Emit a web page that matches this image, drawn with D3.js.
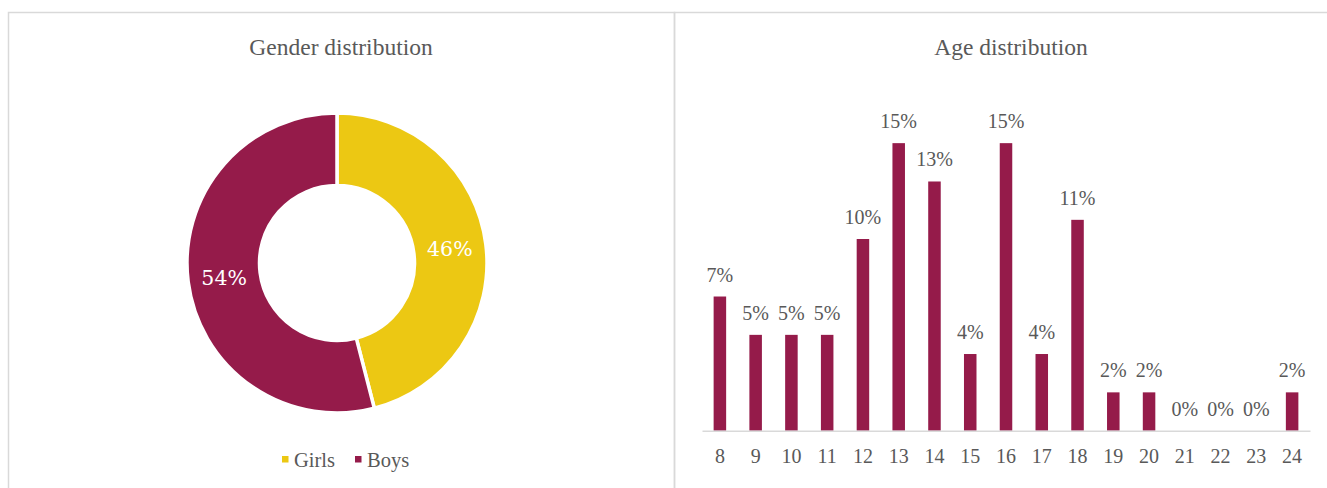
<!DOCTYPE html>
<html>
<head>
<meta charset="utf-8">
<script src="https://cdn.jsdelivr.net/npm/d3@7"></script>
<style>
  html, body { margin: 0; padding: 0; background: #fff; }
  svg { display: block; }
  text { font-family: "Liberation Serif", "Times New Roman", serif; fill: #595959; }
</style>
</head>
<body>
<svg id="chart" width="1327" height="488"></svg>
<script>
// Gender split (percent)
const genderLabels = ["Girls", "Boys"];
const genderValues = [46, 54];
const genderColors = ["#ECC813", "#951B4A"];

// Age split (percent)
const ages = ["8", "9", "10", "11", "12", "13", "14", "15", "16", "17", "18", "19", "20", "21", "22", "23", "24"];
const agePercents = [7, 5, 5, 5, 10, 15, 13, 4, 15, 4, 11, 2, 2, 0, 0, 0, 2];
const barColor = "#951B4A";

const svg = d3.select("#chart");
const borderColor = "#d9d9d9";

// Panel frames
svg.append("rect").attr("x", 8.5).attr("y", 12.5).attr("width", 666).attr("height", 500)
  .attr("fill", "none").attr("stroke", borderColor).attr("stroke-width", 1.5);
svg.append("rect").attr("x", 674.5).attr("y", 12.5).attr("width", 680).attr("height", 500)
  .attr("fill", "none").attr("stroke", borderColor).attr("stroke-width", 1.5);

// ---- Donut: gender distribution ----
svg.append("text").attr("x", 341).attr("y", 55).attr("text-anchor", "middle")
  .style("font-size", "23.5px").text("Gender distribution");

const cx = 337, cy = 263, rOuter = 150, rInner = 77.5;
const pie = d3.pie().sort(null).value(d => d)(genderValues);
const arc = d3.arc().innerRadius(rInner).outerRadius(rOuter);
const donut = svg.append("g").attr("transform", `translate(${cx},${cy})`);
donut.selectAll("path").data(pie).join("path")
  .attr("d", arc)
  .attr("fill", (d, i) => genderColors[i])
  .attr("stroke", "#fff").attr("stroke-width", 3.5).attr("stroke-linejoin", "miter");
donut.selectAll("text.pct").data(pie).join("text").attr("class", "pct")
  .attr("transform", d => `translate(${arc.centroid(d)})`)
  .attr("text-anchor", "middle").attr("dy", "0.36em")
  .style("font-family", "'DejaVu Serif', serif").style("font-size", "20.5px")
  .style("fill", "#fff")
  .text(d => d.data + "%");

// Legend
const legend = svg.append("g");
const legendX = [282, 355];
genderLabels.forEach((name, i) => {
  legend.append("rect").attr("x", legendX[i]).attr("y", 456).attr("width", 6.5).attr("height", 6.5)
    .attr("fill", genderColors[i]);
  legend.append("text").attr("x", legendX[i] + 12).attr("y", 466.5)
    .style("font-size", "20.5px").text(name);
});

// ---- Bars: age distribution ----
svg.append("text").attr("x", 1011).attr("y", 55).attr("text-anchor", "middle")
  .style("font-size", "23.5px").text("Age distribution");

const x = d3.scaleBand().domain(ages).range([702, 1310]).paddingInner(0.65).paddingOuter(0.325);
const y = d3.scaleLinear().domain([0, 16]).range([430.7, 430.7 - 16 * 19.17]);

svg.append("g").selectAll("rect").data(agePercents).join("rect")
  .attr("x", (d, i) => x(ages[i]))
  .attr("width", x.bandwidth())
  .attr("y", d => y(d))
  .attr("height", d => y(0) - y(d))
  .attr("fill", barColor);

svg.append("g").selectAll("text").data(agePercents).join("text")
  .attr("x", (d, i) => x(ages[i]) + x.bandwidth() / 2)
  .attr("y", d => y(d) - 22)
  .attr("dy", "0.35em")
  .attr("text-anchor", "middle")
  .style("font-size", "20px")
  .text(d => d + "%");

const xAxis = svg.append("g").attr("transform", `translate(0,${y(0)})`)
  .call(d3.axisBottom(x).tickSize(0).tickPadding(18));
xAxis.select(".domain").attr("stroke", borderColor).attr("stroke-width", 1.5);
xAxis.selectAll("text")
  .style("font-family", "'Liberation Serif', serif").style("font-size", "20px").style("fill", "#595959");
</script>
</body>
</html>
